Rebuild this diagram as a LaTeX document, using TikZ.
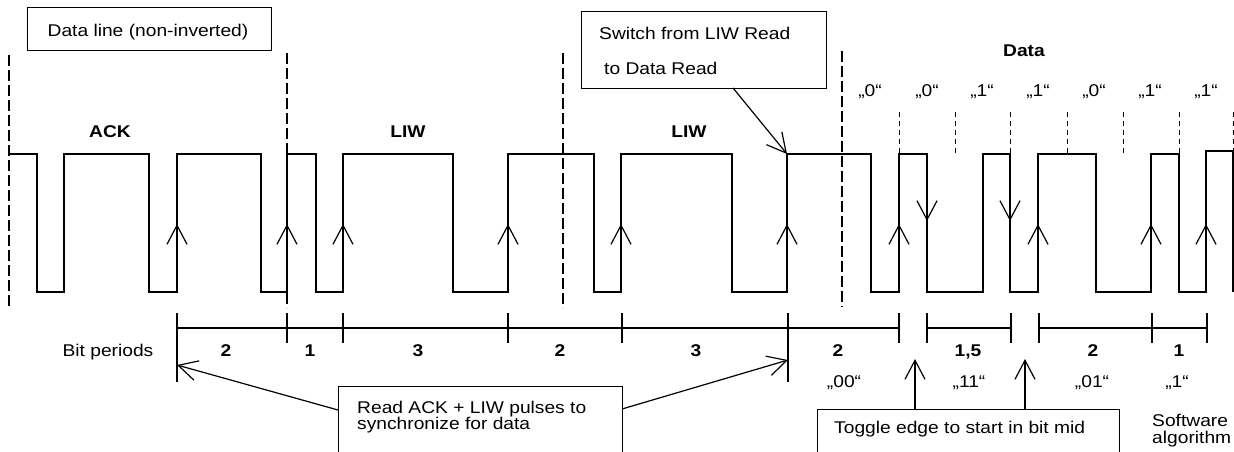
\documentclass[tikz,border=0pt]{standalone}
\usepackage{fontspec}
\setmainfont{Liberation Sans}[FakeStretch=1.13]
\usetikzlibrary{arrows.meta}
\newcommand\fsz{\fontsize{17}{17}\selectfont}
\tikzset{
  sig/.style={line width=1.4pt},
  frame/.style={draw, line width=1pt, inner sep=0pt, anchor=north west},
  lbl/.style={inner sep=0pt, anchor=base, font=\fsz},
  blbl/.style={inner sep=0pt, anchor=base, font=\fsz\bfseries},
  barb/.style={line width=1.2pt, -{Straight Barb[length=19pt,width=20pt]}},
  longdash/.style={line width=1.3pt, dash pattern=on 11pt off 4pt},
  shortdash/.style={line width=1pt, dash pattern=on 5pt off 4pt},
  ruler/.style={line width=1.3pt},
}
\begin{document}
\begin{tikzpicture}[x=1pt,y=-1pt]
\useasboundingbox (0,0) rectangle (1234,451);
\clip (0,0) rectangle (1234,451);

% boxes
\node[frame, minimum width=244pt, minimum height=43pt] (b1) at (27,7) {};
\node[lbl] (t1) at (148,36.7) {Data line (non-inverted)};
\node[frame, minimum width=245pt, minimum height=77pt] (b2) at (581,11) {};
\node[lbl, anchor=base west] (t2a) at (599,39.3) {Switch from LIW Read};
\node[lbl, anchor=base west] (t2b) at (604,74) {to Data Read};
\node[frame, minimum width=284pt, minimum height=90pt] (b3) at (338,386) {};
\node[lbl, anchor=base west] (t3a) at (357,413) {Read ACK + LIW pulses to};
\node[lbl, anchor=base west] (t3b) at (357,429.5) {synchronize for data};
\node[frame, minimum width=302pt, minimum height=70pt] (b4) at (817,409) {};
\node[lbl, anchor=base west] (t4) at (834,433) {Toggle edge to start in bit mid};
\node[lbl, anchor=base west] (sw1) at (1152,426.7) {Software};
\node[lbl, anchor=base west] (sw2) at (1152,443) {algorithm};

% section labels
\node[blbl] (ack) at (110,137) {ACK};
\node[blbl] (liw1) at (408,137) {LIW};
\node[blbl] (liw2) at (689,137) {LIW};
\node[blbl] (data) at (1024,56) {Data};
\foreach \x/\v [count=\i] in {870/0,927/0,982/1,1038/1,1094/0,1150/1,1206/1}
  \node[lbl] (q\i) at (\x,96.7) {„\v“};

% long dashed separators
\draw[longdash] (9,55) -- (9,308);
\draw[longdash] (287,53) -- (287,308);
\draw[longdash] (563,53) -- (563,308);
\draw[longdash] (842,51) -- (842,307);
% short dashed bit boundaries
\foreach \x in {899,955,1010,1067,1123,1179,1233}
  \draw[shortdash] (\x,112) -- (\x,154);

% waveform
\draw[sig] (9,154) -- (37,154) -- (37,292) -- (64,292) -- (64,154) -- (149,154)
  -- (149,292) -- (177,292) -- (177,154) -- (261,154) -- (261,292) -- (287,292)
  -- (287,154) -- (316,154) -- (316,292) -- (343,292) -- (343,154) -- (453,154)
  -- (453,292) -- (508,292) -- (508,154) -- (594,154) -- (594,292) -- (621,292)
  -- (621,154) -- (732,154) -- (732,292) -- (787,292) -- (787,154) -- (871,154)
  -- (871,292) -- (899,292) -- (899,154) -- (927,154) -- (927,292) -- (983,292)
  -- (983,154) -- (1010,154) -- (1010,292) -- (1038,292) -- (1038,154) -- (1096,154)
  -- (1096,292) -- (1151,292) -- (1151,154) -- (1179,154) -- (1179,292) -- (1206,292)
  -- (1206,151) -- (1233,151) -- (1233,292);
\foreach \x in {177,287,343,508,621,787,899,1038,1151,1206}
  \draw[barb] (\x,262) -- (\x,224);
\foreach \x in {927,1010}
  \draw[barb] (\x,185) -- (\x,221);

% bit period ruler
\node[lbl] (bp) at (108,356) {Bit periods};
\draw[ruler] (177,328) -- (899,328);
\draw[ruler] (927,328) -- (1011,328);
\draw[ruler] (1039,328) -- (1207,328);
\foreach \x in {287,343,508,622,899,927,1011,1039,1152,1207}
  \draw[ruler] (\x,313) -- (\x,343);
\draw[ruler] (177,313) -- (177,382);
\draw[ruler] (788,313) -- (788,382);
\foreach \x/\n [count=\i] in {226/2,310/1,418/3,560/2,696/3,838/2,968/{1,5},1093/2,1179/1}
  \node[blbl] (n\i) at (\x,356) {\n};
\node[lbl] (c1) at (844,387) {„00“};
\node[lbl] (c2) at (969,387) {„11“};
\node[lbl] (c3) at (1092,387) {„01“};
\node[lbl] (c4) at (1177,387) {„1“};

% connectors
\coordinate (b2foot) at (733,88);
\coordinate (swpt) at (787,154);
\coordinate (b3w) at (338,410);
\coordinate (r1) at (177,365);
\coordinate (b3e) at (622,409);
\coordinate (r2) at (788,360);
\coordinate (b4n1) at (915,409);
\coordinate (g1) at (915,359);
\coordinate (b4n2) at (1025,409);
\coordinate (g2) at (1025,359);
\draw[barb] (b2foot) -- (swpt);
\draw[barb] (b3w) -- (r1);
\draw[barb] (b3e) -- (r2);
\draw[barb] (b4n1) -- (g1);
\draw[barb] (b4n2) -- (g2);
\end{tikzpicture}
\end{document}
